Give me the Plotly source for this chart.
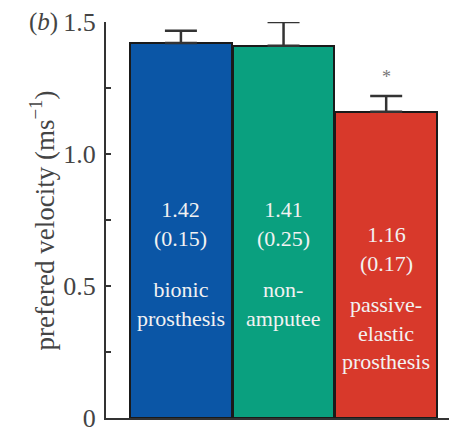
import plotly.graph_objects as go

categories = ["bionic prosthesis", "non-amputee", "passive-elastic prosthesis"]
velocity = [1.42, 1.41, 1.16]
error_up = [0.047, 0.09, 0.06]
sd_text = ["(0.15)", "(0.25)", "(0.17)"]
bar_labels = ["bionic<br>prosthesis", "non-<br>amputee", "passive-<br>elastic<br>prosthesis"]
tick_vals = [0, 0.25, 0.5, 0.75, 1.0, 1.25, 1.5]
tick_text = ["0", "", "0.5", "", "1.0", "", "1.5"]
sig_marker = ["", "", "*"]

colors = ["#0B56A6", "#0AA07F", "#D8392B"]
FONT = "Liberation Serif, Times New Roman, serif"

x = list(range(len(categories)))

fig = go.Figure()
fig.add_trace(go.Bar(
    x=x, y=velocity, width=0.99,
    marker=dict(color=colors, line=dict(color="#1a1a1a", width=2)),
    error_y=dict(type="data", symmetric=False, array=error_up,
                 arrayminus=[0] * len(x), color="#333333", thickness=2.5, width=16),
    hoverinfo="skip",
))

value_center = [0.735, 0.735, 0.64]
label_center = [0.432, 0.432, 0.322]
for i in x:
    fig.add_annotation(x=i, y=value_center[i], xref="x", yref="y",
                       text=f"{velocity[i]:.2f}<br>{sd_text[i]}", showarrow=False,
                       font=dict(family=FONT, size=22, color="#f2f2f2"),
                       yanchor="middle", align="center")
    fig.add_annotation(x=i, y=label_center[i], xref="x", yref="y",
                       text=bar_labels[i], showarrow=False,
                       font=dict(family=FONT, size=22, color="#f2f2f2"),
                       yanchor="middle", align="center")
    if sig_marker[i]:
        fig.add_annotation(x=i, y=velocity[i] + error_up[i] + 0.07, xref="x", yref="y",
                           text=sig_marker[i], showarrow=False,
                           font=dict(family=FONT, size=18, color="#777777"),
                           yanchor="middle")

fig.add_annotation(x=-0.181, y=0.5, xref="paper", yref="paper",
                   text="prefered velocity (ms<sup>−1</sup>)", textangle=-90,
                   showarrow=False, xanchor="center", yanchor="middle",
                   font=dict(family=FONT, size=27, color="#444444"))
fig.add_annotation(x=-0.177, y=1.0, xref="paper", yref="paper",
                   text="(<i>b</i>)", showarrow=False, xanchor="center", yanchor="middle",
                   font=dict(family=FONT, size=25, color="#444444"))

# the page body adds an 8px offset; size the figure so the plot lands where the reference has it
fig.update_layout(
    width=449, height=425,
    margin=dict(l=98, r=0, t=14, b=15),
    paper_bgcolor="white", plot_bgcolor="white",
    showlegend=False, bargap=0,
    xaxis=dict(range=[-0.73, 2.69], showticklabels=False, ticks="",
               showline=True, linecolor="#333333", linewidth=2,
               showgrid=False, zeroline=False, fixedrange=True),
    yaxis=dict(range=[0, 1.5], tickvals=tick_vals, ticktext=tick_text,
               ticks="inside", ticklen=5, tickwidth=2, tickcolor="#333333",
               showline=True, linecolor="#333333", linewidth=2,
               showgrid=False, zeroline=False, ticklabelstandoff=3,
               ticklabeloverflow="allow",
               tickfont=dict(family=FONT, size=26, color="#444444")),
)

fig.write_html("out.html")
